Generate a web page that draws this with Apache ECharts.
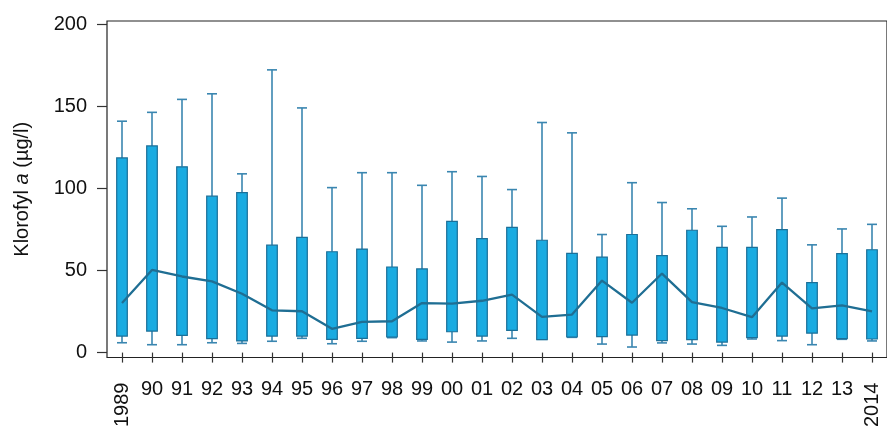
<!DOCTYPE html>
<html>
<head>
<meta charset="utf-8">
<script src="https://cdn.jsdelivr.net/npm/echarts@6/dist/echarts.min.js"></script>
<style>
  html, body { margin: 0; padding: 0; background: #fff; }
  #chart { width: 887px; height: 430px; }
</style>
</head>
<body>
<div id="chart"></div>
<script>
// Chlorophyll a per year: whisker ends, box edges and the connecting line
const years = ['1989','90','91','92','93','94','95','96','97','98','99','00','01','02','03','04','05','06','07','08','09','10','11','12','13','2014'];
const whiskerLow  = [6.0, 4.8, 4.8, 6.0, 5.6, 6.9, 8.7, 5.4, 6.9, 9.1, 7.1, 6.4, 7.1, 8.7, 8.1, 9.3, 5.2, 3.4, 5.9, 5.2, 4.4, 8.3, 7.3, 4.8, 8.1, 7.1];
const boxLow      = [10.1, 13.1, 10.5, 8.5, 7.1, 10.1, 10.1, 8.1, 8.7, 9.5, 8.1, 12.7, 10.1, 13.5, 7.9, 9.5, 9.7, 10.7, 7.3, 7.9, 6.4, 9.1, 10.1, 11.9, 8.5, 8.3];
const boxHigh     = [118.7, 126.0, 113.3, 95.4, 97.6, 65.5, 70.2, 61.5, 63.1, 52.2, 51.0, 80.0, 69.5, 76.4, 68.5, 60.5, 58.2, 72.0, 59.1, 74.6, 64.1, 64.1, 75.0, 42.7, 60.3, 62.7];
const whiskerHigh = [141.1, 146.5, 154.4, 157.8, 109.0, 172.4, 149.2, 100.6, 109.7, 109.7, 102.0, 110.3, 107.4, 99.4, 140.3, 134.0, 72.0, 103.6, 91.5, 87.7, 77.0, 82.7, 94.2, 65.7, 75.4, 78.2];
const lineValues  = [30.2, 50.4, 46.4, 43.4, 35.9, 25.8, 25.2, 14.5, 18.7, 19.1, 30.2, 29.8, 31.6, 35.3, 21.8, 23.2, 43.9, 30.4, 48.2, 30.8, 27.2, 21.6, 42.7, 27.0, 28.8, 25.2];
const yTicks = [0, 50, 100, 150, 200];

const FONT = 'Liberation Sans, Arial, sans-serif';
const boxFill = '#1aabe1';
const boxStroke = '#1b6f98';
const whiskerColor = '#3a86b0';
const lineColor = '#1f6e93';

const boxData = years.map((y, i) => [i, whiskerLow[i], boxLow[i], boxHigh[i], whiskerHigh[i]]);
const lastIdx = years.length - 1;

function renderBox(params, api) {
  const i = api.value(0);
  const pWL = api.coord([i, api.value(1)]);
  const pQ1 = api.coord([i, api.value(2)]);
  const pQ3 = api.coord([i, api.value(3)]);
  const pWH = api.coord([i, api.value(4)]);
  const cx = pQ1[0];
  const half = 5.3;
  const capHalf = 5;
  const wStyle = { stroke: whiskerColor, lineWidth: 1.6 };
  return {
    type: 'group',
    children: [
      { type: 'line', shape: { x1: cx, y1: pQ3[1], x2: cx, y2: pWH[1] }, style: wStyle },
      { type: 'line', shape: { x1: cx - capHalf, y1: pWH[1], x2: cx + capHalf, y2: pWH[1] }, style: wStyle },
      { type: 'line', shape: { x1: cx, y1: pQ1[1], x2: cx, y2: pWL[1] }, style: wStyle },
      { type: 'line', shape: { x1: cx - capHalf, y1: pWL[1], x2: cx + capHalf, y2: pWL[1] }, style: wStyle },
      {
        type: 'rect',
        shape: { x: cx - half, y: pQ3[1], width: half * 2, height: pQ1[1] - pQ3[1] },
        style: { fill: boxFill, stroke: boxStroke, lineWidth: 1.2 }
      }
    ]
  };
}

const chart = echarts.init(document.getElementById('chart'), null, { renderer: 'canvas' });
chart.setOption({
  animation: false,
  backgroundColor: '#ffffff',
  textStyle: { fontFamily: FONT },
  grid: {
    left: 107, top: 21, width: 789, height: 339,
    show: true, borderColor: '#222', borderWidth: 1.2, backgroundColor: 'transparent'
  },
  xAxis: [
    {
      type: 'category',
      data: years,
      boundaryGap: true,
      axisLine: { show: false },
      axisTick: { show: true, alignWithLabel: true, length: 10, lineStyle: { color: '#333', width: 1.2 } },
      axisLabel: {
        interval: 0, margin: 22, fontSize: 20, color: '#111', fontFamily: FONT,
        formatter: (v, i) => (i === 0 || i === lastIdx) ? '' : v
      },
      splitLine: { show: false }
    },
    {
      type: 'category',
      data: years,
      position: 'bottom',
      boundaryGap: true,
      axisLine: { show: false },
      axisTick: { show: false },
      axisLabel: {
        interval: 0, rotate: 90, margin: 25, fontSize: 20, color: '#111', fontFamily: FONT,
        formatter: (v, i) => (i === 0 || i === lastIdx) ? v : ''
      },
      splitLine: { show: false }
    }
  ],
  yAxis: {
    type: 'value',
    min: -3,
    max: 202.2,
    axisLine: { show: false },
    splitLine: { show: false },
    axisTick: { show: true, length: 10, customValues: yTicks, lineStyle: { color: '#333', width: 1.2 } },
    axisLabel: { customValues: yTicks, fontSize: 20, margin: 20, color: '#111', fontFamily: FONT },
    name: '{t|Klorofyl }{i|a}{t| (µg/l)}',
    nameLocation: 'middle',
    nameGap: 75,
    nameRotate: 90,
    nameTextStyle: {
      rich: {
        t: { fontSize: 20, color: '#111', fontFamily: FONT },
        i: { fontSize: 20, color: '#111', fontFamily: FONT, fontStyle: 'italic' }
      }
    }
  },
  series: [
    {
      type: 'custom',
      xAxisIndex: 0,
      renderItem: renderBox,
      encode: { x: 0, y: [1, 2, 3, 4] },
      data: boxData,
      z: 2
    },
    {
      type: 'line',
      xAxisIndex: 0,
      data: lineValues,
      symbol: 'none',
      lineStyle: { color: lineColor, width: 2.3 },
      z: 3
    }
  ]
});
</script>
</body>
</html>
